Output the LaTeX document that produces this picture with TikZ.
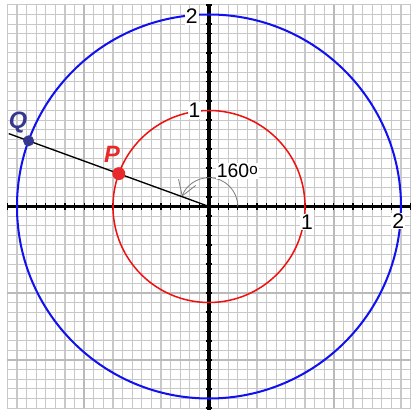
\documentclass[tikz,border=0pt]{standalone}
\usepackage{fontspec}
\setmainfont{Liberation Sans}
\usetikzlibrary{positioning,arrows.meta}
\definecolor{gridgray}{HTML}{C8C8C8}
\definecolor{majgray}{HTML}{BABABA}
\definecolor{cblue}{HTML}{1010F0}
\definecolor{cred}{HTML}{F01010}
\definecolor{qblue}{HTML}{34398F}
\definecolor{pred}{HTML}{E8282A}
\tikzset{
  minorgrid/.style={gridgray, line width=0.65pt},
  majorgrid/.style={majgray, line width=1.3pt},
  axisline/.style={black, line width=1.8pt},
  axtick/.style={black, line width=0.8pt},
  axlabel/.style={fill=white, inner sep=0.6pt, font=\fontsize{12.5}{14}\selectfont},
  dot/.style={circle, inner sep=0pt},
  ptlabel/.style={inner sep=1pt, font=\fontsize{14}{16}\selectfont\bfseries\itshape},
}

\begin{document}
\begin{tikzpicture}[x=2cm, y=2cm]
  \useasboundingbox (-2.177,-2.224) rectangle (2.198,2.151);
  % graph paper
  \foreach \k in {-21,...,21}{
    \draw[minorgrid] (\k/10,-2.1) -- (\k/10,2.1);
    \draw[minorgrid] (-2.1,\k/10) -- (2.1,\k/10);
  }
  \foreach \x in {-1.3,1.3} \draw[majorgrid] (\x,-2.1) -- (\x,2.1);
  \foreach \y in {-0.9,-1.6} \draw[majorgrid] (-2.1,\y) -- (2.1,\y);

  % axes with ticks
  \draw[axisline] (-2.1,0) -- (2.1,0);
  \draw[axisline] (0,-2.12) -- (0,2.1);
  \foreach \k in {-21,...,21}{
    \draw[axtick] (\k/10,-0.036) -- (\k/10,0.036);
    \draw[axtick] (-0.036,\k/10) -- (0.036,\k/10);
  }

  % the two circles
  \coordinate (O) at (0,0);
  \draw[cblue, line width=1.2pt] (O) circle (2);
  \draw[cred, line width=0.9pt] (O) circle (1);

  % axis labels
  \node[axlabel] (y2) at (-0.18,1.98) {2};
  \node[axlabel] (y1) at (-0.15,1.0) {1};
  \node[axlabel] (x1) at (1.02,-0.16) {1};
  \node[axlabel] (x2) at (1.97,-0.15) {2};

  % angle
  \draw[gray, line width=0.5pt, -{Straight Barb[length=3mm, width=3.8mm]}]
    (0.3,0) arc[start angle=0, end angle=160, radius=0.3];
  \node[anchor=west, fill=white, inner sep=0.5pt, font=\fontsize{11.5}{13}\selectfont]
    (ang) at (0.07,0.37) {160\raisebox{0.35ex}{\fontsize{9}{10}\selectfont o}};

  % ray and points
  \coordinate (E) at (160:2.22);
  \draw[black, line width=0.8pt] (O) -- (E);
  \node[dot, fill=pred, minimum size=2.7mm] (P) at (160:1) {};
  \node[dot, fill=qblue, minimum size=2.3mm] (Q) at (160:2) {};
  \node[ptlabel, text=pred] (Plab) at (-1.01,0.54) {P};
  \node[ptlabel, text=qblue] (Qlab) at (-1.99,0.87) {Q};
\end{tikzpicture}
\end{document}
